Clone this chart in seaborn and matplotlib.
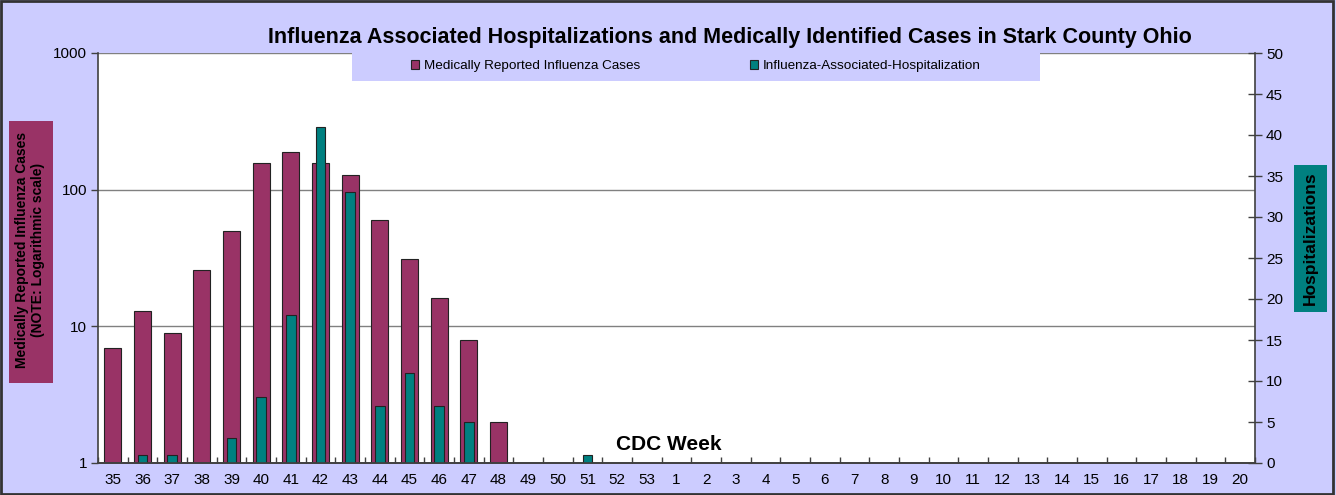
import numpy as np
import pandas as pd
import seaborn as sns
import matplotlib
matplotlib.use("Agg")
import matplotlib.pyplot as plt
from matplotlib.patches import Patch, Rectangle
from matplotlib.ticker import NullLocator, FixedLocator, FuncFormatter

# CDC weeks shown on the x axis
weeks = [str(w) for w in range(35, 54)] + [str(w) for w in range(1, 21)]

# medically reported cases per week (log axis), blank where nothing reported
cases = [7, 13, 9, 26, 50, 158, 188, 158, 127, 60, 31, 16, 8, 2]
# hospitalizations per week (right axis)
hosp = [0, 1, 1, 0, 3, 8, 18, 41, 33, 7, 11, 7, 5, 0, 0, 0, 1]

case_col = '#993366'
hosp_col = '#008080'
bg_col = '#CCCCFF'

df = pd.DataFrame({'week': weeks})
df['cases'] = pd.Series(cases + [np.nan] * (len(weeks) - len(cases)), dtype=float)
df['hosp'] = pd.Series(hosp + [0] * (len(weeks) - len(hosp)), dtype=float)
df.loc[df['hosp'] == 0, 'hosp'] = np.nan

sns.set_style("ticks")
plt.rcParams['font.family'] = ['Liberation Sans', 'DejaVu Sans']
plt.rcParams['text.color'] = 'black'
plt.rcParams['xtick.color'] = 'black'
plt.rcParams['ytick.color'] = 'black'

W, H = 1336, 495
fig = plt.figure(figsize=(W / 100, H / 100), dpi=100)
fig.patch.set_facecolor(bg_col)
fig.patches.append(Rectangle((0.001, 0.002), 0.997, 0.995, transform=fig.transFigure,
                             fill=False, edgecolor='#333333', lw=2))

ax = fig.add_axes([98 / W, (H - 463) / H, 1157 / W, 410 / H])
ax.set_facecolor('white')

sns.barplot(data=df, x='week', y='cases', order=weeks, color=case_col, saturation=1,
            width=0.57, edgecolor='#222222', linewidth=0.8, errorbar=None, ax=ax)
ax.set_yscale('log')
ax.set_ylim(1, 1000)
ax.yaxis.set_major_locator(FixedLocator([1, 10, 100, 1000]))
ax.yaxis.set_minor_locator(NullLocator())
ax.yaxis.set_major_formatter(FuncFormatter(lambda v, p: '%d' % v))
ax.set_axisbelow(True)
ax.yaxis.grid(True, color='#808080', lw=1)
ax.set_xlim(-0.5, len(weeks) - 0.5)
ax.set_xlabel('')
ax.set_ylabel('')

ax2 = ax.twinx()
sns.barplot(data=df, x='week', y='hosp', order=weeks, color=hosp_col, saturation=1,
            width=0.33, edgecolor='#222222', linewidth=0.8, errorbar=None, ax=ax2)
ax2.set_ylim(0, 50)
ax2.set_yticks(range(0, 51, 5))
ax2.set_ylabel('')
ax2.set_xlim(-0.5, len(weeks) - 0.5)

for a in (ax, ax2):
    for s in a.spines.values():
        s.set_color('#404040')
        s.set_linewidth(1.2)
    a.spines['top'].set_visible(False)
ax.spines['right'].set_visible(False)
ax2.spines['left'].set_visible(False)

tick_fs = 11
ax.tick_params(axis='y', direction='out', length=5, width=1, color='#404040',
               labelsize=tick_fs, pad=3)
ax2.tick_params(axis='y', direction='inout', length=10, width=1, color='#404040',
                labelsize=tick_fs, pad=3)
ax.set_xticks(range(len(weeks)))
ax.set_xticklabels(weeks)
ax.xaxis.set_minor_locator(FixedLocator(np.arange(-0.5, len(weeks), 1)))
ax.tick_params(axis='x', which='major', length=0, labelsize=tick_fs, pad=7)
ax.tick_params(axis='x', which='minor', direction='in', length=4, width=1, color='#404040')
ax2.tick_params(axis='x', which='both', length=0, labelbottom=False)

# legend strip across the top of the plot area
ax2.add_patch(Rectangle((254 / 1157, 1 - 28 / 410), 688 / 1157, 28 / 410,
                        transform=ax2.transAxes, facecolor=bg_col, edgecolor='none',
                        zorder=5, clip_on=False))
handles = [Patch(facecolor=case_col, edgecolor='#222222', lw=0.8,
                 label='Medically Reported Influenza Cases'),
           Patch(facecolor=hosp_col, edgecolor='#222222', lw=0.8,
                 label='Influenza-Associated-Hospitalization')]
fs = 9.7
px = fs * 100 / 72
leg = ax2.legend(handles=handles, ncol=2, loc='center',
                 bbox_to_anchor=(598 / 1157, 1 - 13 / 410),
                 frameon=False, fontsize=fs, handlelength=8 / px,
                 handleheight=8 / px, handletextpad=5 / px,
                 columnspacing=110 / px, borderpad=0)
leg.set_zorder(6)

fig.text(730 / W, 1 - 37 / H,
         'Influenza Associated Hospitalizations and Medically Identified Cases in Stark County Ohio',
         ha='center', va='center', fontsize=15.5, fontweight='bold')
fig.text(669 / W, 1 - 445 / H, 'CDC Week', ha='center', va='center',
         fontsize=15, fontweight='bold')

# axis title boxes
fig.patches.append(Rectangle((9 / W, 1 - 383 / H), 44 / W, 262 / H, transform=fig.transFigure,
                             facecolor=case_col, edgecolor='none'))
fig.text(30 / W, 1 - 250 / H, 'Medically Reported Influenza Cases\n(NOTE: Logarithmic scale)',
         ha='center', va='center', rotation=90, multialignment='center',
         fontsize=10, fontweight='bold', linespacing=1.15)
fig.patches.append(Rectangle((1294 / W, 1 - 312 / H), 33 / W, 147 / H, transform=fig.transFigure,
                             facecolor=hosp_col, edgecolor='none'))
fig.text(1310.5 / W, 1 - 238.5 / H, 'Hospitalizations', ha='center', va='center',
         rotation=90, fontsize=12.5, fontweight='bold')

fig.savefig('out.png', dpi=100, facecolor=fig.get_facecolor())
